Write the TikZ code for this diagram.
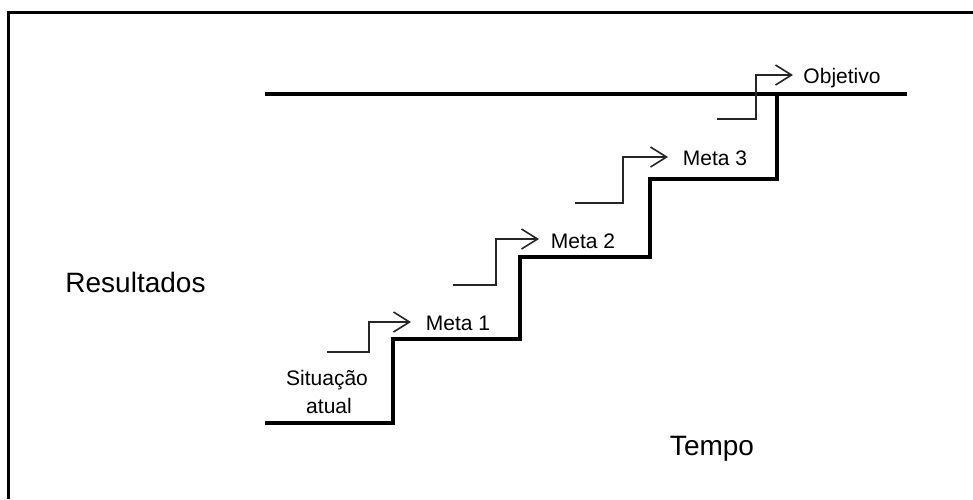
\documentclass[tikz,border=0pt]{standalone}
\usepackage{fontspec}
\setmainfont{Liberation Sans}
\usetikzlibrary{arrows.meta}
\tikzset{
  stair/.style={line width=4pt, line join=miter},
  stepline/.style={line width=1.6pt, draw=black!85, -{Straight Barb[length=16pt,width=20pt,line width=1.6pt]}},
  lbl/.style={inner sep=0pt, anchor=base, font=\fontsize{21}{28}\selectfont},
  biglbl/.style={inner sep=0pt, anchor=base, font=\fontsize{28}{34}\selectfont},
  frameline/.style={line width=3pt}
}
\begin{document}
\begin{tikzpicture}[x=1pt,y=-1pt]
\useasboundingbox (0,0) rectangle (973,499);
\fill[white] (0,0) rectangle (973,499);
% frame
\draw[frameline] (8,499) -- (8,12.5) -- (973,12.5);
% goal line
\draw[line width=4pt] (265,94) -- (907,94);
% staircase
\draw[stair] (265,423) -- (393,423) -- (393,339) -- (520,339) -- (520,257) -- (650,257) -- (650,179) -- (777,179) -- (777,94);
% labels
\node[lbl] (m1) at (458,330) {Meta 1};
\node[lbl] (m2) at (583,248) {Meta 2};
\node[lbl] (m3) at (715,165) {Meta 3};
\node[lbl] (obj) at (842,83) {Objetivo};
\node[lbl] (sit) at (327,385) {Situação};
\node[lbl] (atu) at (329,413) {atual};
\node[biglbl] (res) at (135.5,292) {Resultados};
\node[biglbl] (tem) at (712,455) {Tempo};
% step arrows
\coordinate (a1s) at (327,352); \coordinate (a1e) at (411,322);
\coordinate (a2s) at (453,285); \coordinate (a2e) at (539,239);
\coordinate (a3s) at (575,203); \coordinate (a3e) at (668,157);
\coordinate (a4s) at (717,119); \coordinate (a4e) at (793,75);
\draw[stepline] (a1s) -- (369,352) -- (369,322) -- (a1e);
\draw[stepline] (a2s) -- (496,285) -- (496,239) -- (a2e);
\draw[stepline] (a3s) -- (623,203) -- (623,157) -- (a3e);
\draw[stepline] (a4s) -- (756,119) -- (756,75) -- (a4e);
\end{tikzpicture}
\end{document}
